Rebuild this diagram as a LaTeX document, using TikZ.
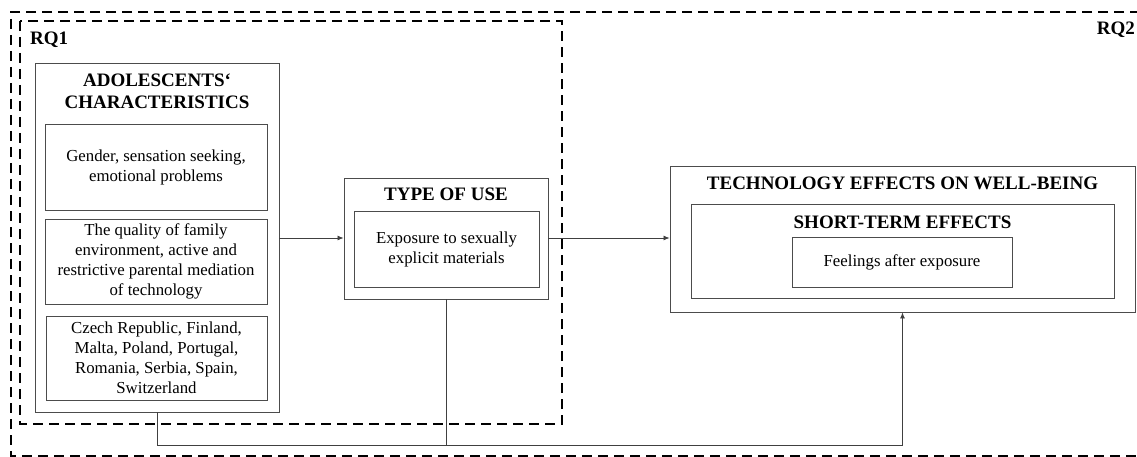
\documentclass[tikz,border=0pt]{standalone}
\usepackage{fontspec}
\setmainfont{Liberation Serif}
\usetikzlibrary{arrows.meta}
\begin{document}
\begin{tikzpicture}[x=1pt,y=-1pt,
  box/.style={draw=black!70, line width=0.9pt, rectangle, inner sep=0pt, align=center,
    font=\rmfamily\fontsize{16.8}{20}\selectfont},
  ttl/.style={inner sep=0pt, align=center, font=\rmfamily\fontsize{19}{22}\selectfont\bfseries},
  rq/.style={draw=black, line width=1.8pt, dash pattern=on 10pt off 6pt},
  conn/.style={draw=black!75, line width=0.8pt},
  arr/.style={conn, -{Latex[length=6pt,width=5pt]}}]
\useasboundingbox (0,0) rectangle (1137,457);
% dashed frames
\draw[rq] (1140,12) -- (11,12) -- (11,456) -- (1140,456);
\draw[rq] (20,21) rectangle (562,424);
\node[ttl, anchor=west] (rq1) at (30,40) {RQ1};
\node[ttl, anchor=east] (rq2) at (1135,30) {RQ2};
% adolescents
\node[box, minimum width=244pt, minimum height=349pt] (adol) at (157,237.5) {};
\node[ttl] (adolt) at (157,91) {ADOLESCENTS‘\\CHARACTERISTICS};
\node[box, minimum width=222pt, minimum height=86pt] (a1) at (156,167) {Gender, sensation seeking,\\emotional problems};
\node[box, minimum width=222pt, minimum height=85pt] (a2) at (156,261.5) {The quality of family\\environment, active and\\restrictive parental mediation\\of technology};
\node[box, minimum width=221pt, minimum height=84pt] (a3) at (156.5,358) {Czech Republic, Finland,\\Malta, Poland, Portugal,\\Romania, Serbia, Spain,\\Switzerland};
% type of use
\node[box, minimum width=204pt, minimum height=121pt] (use) at (446,238.5) {};
\node[ttl] (uset) at (446,194) {TYPE OF USE};
\node[box, minimum width=185pt, minimum height=76pt] (usein) at (446.5,249) {Exposure to sexually\\explicit materials};
% technology effects
\node[box, minimum width=465pt, minimum height=146pt] (tech) at (902.5,239) {};
\node[ttl] (techt) at (902.5,183) {TECHNOLOGY EFFECTS ON WELL-BEING};
\node[box, minimum width=423pt, minimum height=94pt] (short) at (902.5,251) {};
\node[ttl] (shortt) at (902.5,222) {SHORT-TERM EFFECTS};
\node[box, minimum width=220pt, minimum height=50pt] (feel) at (902,262) {Feelings after exposure};
% connectors
\coordinate (b) at (0,445);
\draw[arr] (adol.east |- 0,238) -- (use.west |- 0,238);
\draw[arr] (use.east |- 0,238) -- (tech.west |- 0,238);
\draw[arr] (adol.south) -- (adol.south |- b) -- (tech.south |- b) -- (tech.south);
\draw[conn] (use.south) -- (use.south |- b);
\end{tikzpicture}
\end{document}
